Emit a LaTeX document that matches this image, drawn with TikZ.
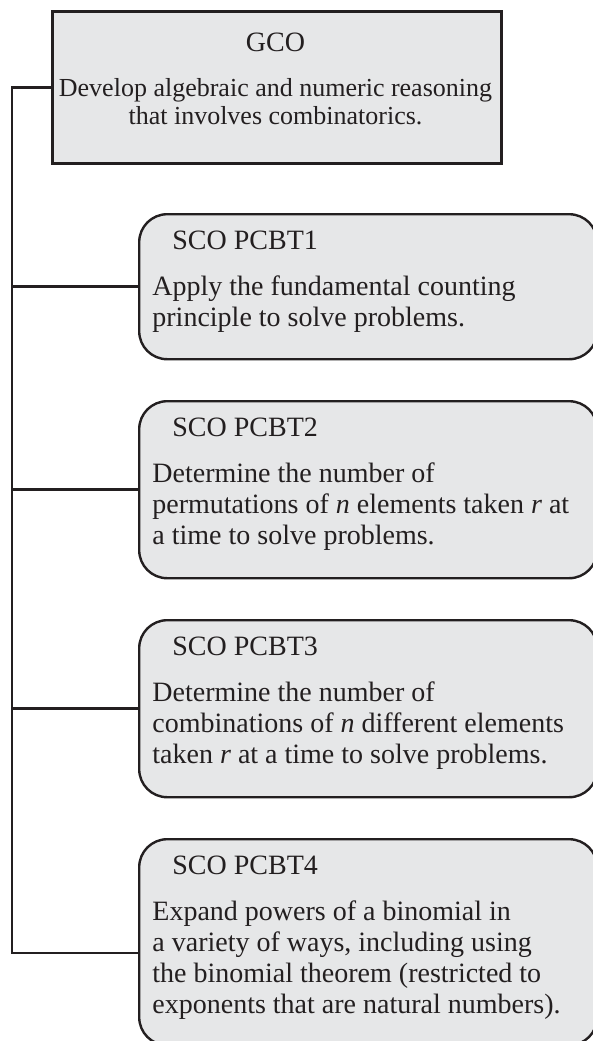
\documentclass[tikz,border=0pt]{standalone}
\usepackage{fontspec}
\setmainfont{Liberation Serif}
\usepackage{xcolor}
\definecolor{boxfill}{HTML}{E6E7E8}
\definecolor{boxline}{HTML}{231F20}
\usetikzlibrary{positioning}
\tikzset{
  gcobox/.style ={rectangle, draw=boxline, line width=1.5pt, fill=boxfill, anchor=north west, inner sep=0pt},
  scobox/.style ={rectangle, rounded corners=14pt, draw=boxline, line width=1.2pt, fill=boxfill,
                  anchor=north west, inner sep=0pt, minimum width=229pt},
  gcotxt/.style ={anchor=north, align=center, inner sep=0pt, text=boxline,
                  font=\fontsize{13}{14}\selectfont},
  scohead/.style={anchor=north west, inner sep=0pt, text=boxline, font=\fontsize{14}{15.5}\selectfont},
  scotxt/.style ={anchor=north west, align=left, inner sep=0pt, text=boxline,
                  font=\fontsize{14}{15.5}\selectfont},
  conn/.style   ={line width=1.25pt, draw=boxline},
}
\begin{document}
\begin{tikzpicture}[x=0.5pt, y=-0.5pt]
  \useasboundingbox (0,0) rectangle (593,1041);
  % GCO
  \node[gcobox, minimum width=224.5pt, minimum height=76pt] (gco) at (51,10) {};
  \node[gcotxt, font=\fontsize{14}{15}\selectfont] (gcohead) at (275.5,33) {GCO};
  \node[gcotxt] (gcobody) at (275.5,78) {Develop algebraic and numeric reasoning\\that involves combinatorics.};
  % SCO boxes
  \node[scobox, minimum height=72.5pt] (sco1) at (138,213) {};
  \node[scobox, minimum height=88.5pt] (sco2) at (138,400) {};
  \node[scobox, minimum height=88.5pt] (sco3) at (138,619) {};
  \node[scobox, minimum height=103pt]  (sco4) at (138,838) {};
  \node[scohead] (sco1h) at (172,231) {SCO PCBT1};
  \node[scotxt]  (sco1t) at (152,275) {Apply the fundamental counting\\principle to solve problems.};
  \node[scohead] (sco2h) at (172,418) {SCO PCBT2};
  \node[scotxt]  (sco2t) at (152,462) {Determine the number of\\permutations of \textit{n} elements taken \textit{r} at\\a time to solve problems.};
  \node[scohead] (sco3h) at (172,637) {SCO PCBT3};
  \node[scotxt]  (sco3t) at (152,681) {Determine the number of\\combinations of \textit{n} different elements\\taken \textit{r} at a time to solve problems.};
  \node[scohead] (sco4h) at (172,856) {SCO PCBT4};
  \node[scotxt]  (sco4t) at (152,900) {Expand powers of a binomial in\\a variety of ways, including using\\the binomial theorem (restricted to\\exponents that are natural numbers).};
  % spine
  \coordinate (spine) at (12,0);
  \coordinate (sco4in) at (138,953);
  \draw[conn] (gco.west) -- (gco.west -| spine) |- (sco4in);
  \foreach \n in {sco1,sco2,sco3}
    \draw[conn] (\n.west -| spine) -- (\n.west);
\end{tikzpicture}
\end{document}
